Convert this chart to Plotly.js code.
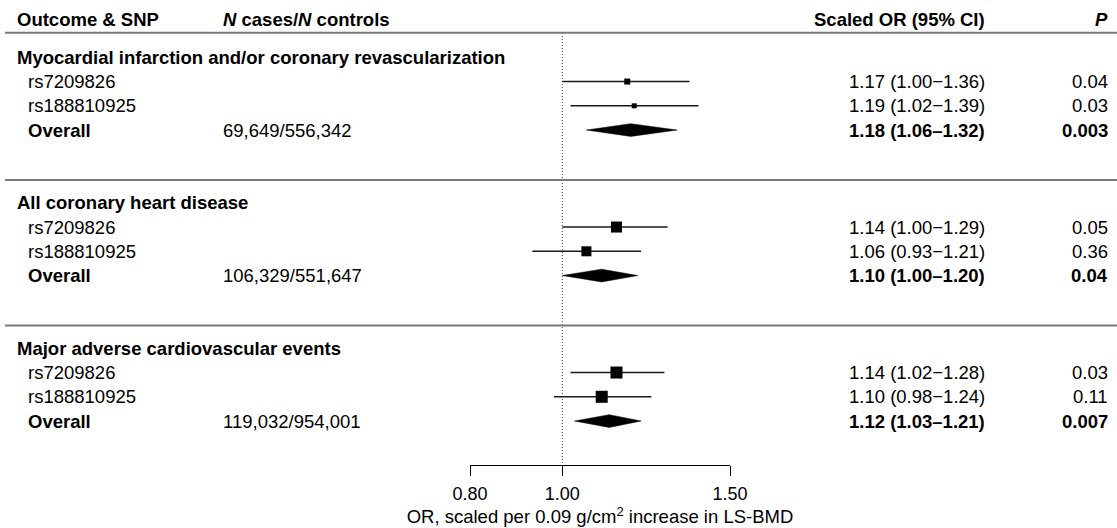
<!DOCTYPE html>
<html><head><meta charset="utf-8">
<script src="https://cdn.plot.ly/plotly-3.0.1.min.js"></script>
<style>html,body{margin:0;padding:0;background:#fff}#chart{width:1117px;height:528px}</style>
</head><body><div id="chart"></div>
<script>
// ---------------- DATA ----------------
const outcomes = [
  "Myocardial infarction and/or coronary revascularization",
  "All coronary heart disease",
  "Major adverse cardiovascular events"
];
const snps = ["rs7209826", "rs188810925"];
const nCasesControls = ["69,649/556,342", "106,329/551,647", "119,032/954,001"];
const snpOR = [[1.17, 1.19], [1.14, 1.06], [1.14, 1.10]];
const snpLo = [[1.00, 1.02], [1.00, 0.93], [1.02, 0.98]];
const snpHi = [[1.36, 1.39], [1.29, 1.21], [1.28, 1.24]];
const snpP  = [["0.04", "0.03"], ["0.05", "0.36"], ["0.03", "0.11"]];
const overallOR = [1.18, 1.10, 1.12];
const overallLo = [1.06, 1.00, 1.03];
const overallHi = [1.32, 1.20, 1.21];
const overallP  = ["0.003", "0.04", "0.007"];
const tickVals = [0.80, 1.00, 1.50];
const tickText = ["0.80", "1.00", "1.50"];
const headers = ["Outcome &amp; SNP", "<i>N</i> cases/<i>N</i> controls", "Scaled OR (95% CI)", "<i>P</i>"];
const overallLabel = "Overall";
const xTitle = "OR, scaled per 0.09 g/cm<sup>2</sup> increase in LS-BMD";

// ---------------- STYLE / LAYOUT ----------------
const W = 1117, H = 528;
const ROW_PX = 24.25;
const Y0_PX = 57.3;
const yTop = -Y0_PX / ROW_PX;
const yBot = yTop + H / ROW_PX;
const pxToRow = p => (p - Y0_PX) / ROW_PX;
const px = x => x / W;
const FONT = "'Liberation Sans', Arial, Helvetica, sans-serif";
const FS = 18.5;
const boxPx = [[6, 5], [11, 10], [12, 12]];
const DIAMOND_HALF = 6.4 / ROW_PX;
const COL = {title: 15, snp: 26, n: 221, ci: 987, p: 1110};

const rowOf = (g, k) => g * 6 + k; // k: 0 title, 1-2 snps, 3 overall

// CI lines and squares
const ciX = [], ciY = [], sqX = [], sqY = [], sqS = [];
snpOR.forEach((arr, g) => arr.forEach((or, k) => {
  const r = rowOf(g, k + 1);
  ciX.push(snpLo[g][k], snpHi[g][k], null);
  ciY.push(r, r, null);
  sqX.push(or); sqY.push(r); sqS.push(boxPx[g][k]);
}));
// diamonds
const dX = [], dY = [];
overallOR.forEach((or, g) => {
  const r = rowOf(g, 3);
  dX.push(overallLo[g], or, overallHi[g], or, overallLo[g], null);
  dY.push(r, r - DIAMOND_HALF, r, r + DIAMOND_HALF, r, null);
});

const traces = [
  {type: "scatter", mode: "lines", x: ciX, y: ciY, line: {color: "#1a1a1a", width: 1.4},
   hoverinfo: "skip", connectgaps: false},
  {type: "scatter", mode: "markers", x: sqX, y: sqY,
   marker: {symbol: "square", color: "#000", opacity: 1, size: sqS, line: {width: 0}}, hoverinfo: "skip"},
  {type: "scatter", mode: "lines", x: dX, y: dY, fill: "toself", fillcolor: "#000",
   line: {color: "#000", width: 0.5}, hoverinfo: "skip"}
];

// text
const anns = [];
function T(text, xp, row, anchor, bold) {
  anns.push({text: bold ? "<b>" + text + "</b>" : text, xref: "paper", yref: "y",
    x: px(xp), y: row, xanchor: anchor, yanchor: "middle", showarrow: false,
    font: {family: FONT, size: FS, color: "#000"}});
}
const yHead = pxToRow(19.5);
T(headers[0], COL.title, yHead, "left", true);
T(headers[1], COL.n, yHead, "left", true);
T(headers[2], COL.ci, yHead, "right", true);
T(headers[3], COL.p, yHead, "right", true);

const fmt = v => v.toFixed(2);
outcomes.forEach((name, g) => {
  T(name, COL.title, rowOf(g, 0), "left", true);
  snps.forEach((s, k) => {
    const r = rowOf(g, k + 1);
    T(s, COL.snp, r, "left", false);
    T(fmt(snpOR[g][k]) + " (" + fmt(snpLo[g][k]) + "\u2212" + fmt(snpHi[g][k]) + ")", COL.ci, r, "right", false);
    T(snpP[g][k], COL.p, r, "right", false);
  });
  const r = rowOf(g, 3);
  T(overallLabel, COL.snp, r, "left", true);
  T(nCasesControls[g], COL.n, r, "left", false);
  T(fmt(overallOR[g]) + " (" + fmt(overallLo[g]) + "\u2013" + fmt(overallHi[g]) + ")", COL.ci, r, "right", true);
  T(overallP[g], COL.p, r, "right", true);
});

// rules
const shapes = [];
const hLine = row => ({type: "line", xref: "paper", yref: "y", x0: px(5), x1: 1, y0: row, y1: row,
  line: {color: "#7a7a7a", width: 2}});
shapes.push(hLine(pxToRow(32.7)));
shapes.push(hLine(rowOf(0, 0) + pxToRow(180) - pxToRow(Y0_PX)));
shapes.push(hLine(rowOf(1, 0) + pxToRow(180) - pxToRow(Y0_PX)));
shapes.push({type: "line", xref: "x", yref: "y", x0: 1, x1: 1, y0: pxToRow(33), y1: pxToRow(465),
  line: {color: "#444", width: 1, dash: "1px,2px"}, layer: "below"});

const layout = {
  width: W, height: H,
  margin: {l: 0, r: 0, t: 0, b: 0, pad: 0},
  paper_bgcolor: "#fff", plot_bgcolor: "rgba(0,0,0,0)",
  showlegend: false,
  font: {family: FONT, size: FS, color: "#000"},
  xaxis: {
    type: "log", domain: [px(470), px(730)],
    range: [Math.log10(0.8), Math.log10(1.5)],
    anchor: "free", position: 1 - 465 / H,
    showline: true, linecolor: "#000", linewidth: 1,
    ticks: "outside", ticklen: 10, tickwidth: 1, tickcolor: "#000",
    ticklabelstandoff: 2,
    tickmode: "array", tickvals: tickVals, ticktext: tickText,
    tickfont: {family: FONT, size: 18, color: "#000"},
    showgrid: false, zeroline: false, fixedrange: true,
    title: {text: xTitle, font: {family: FONT, size: FS, color: "#000"}, standoff: 5}
  },
  yaxis: {range: [yBot, yTop], visible: false, domain: [0, 1], fixedrange: true, showgrid: false, zeroline: false},
  annotations: anns,
  shapes: shapes
};

Plotly.newPlot("chart", traces, layout, {staticPlot: true, displayModeBar: false});
</script>
</body></html>
